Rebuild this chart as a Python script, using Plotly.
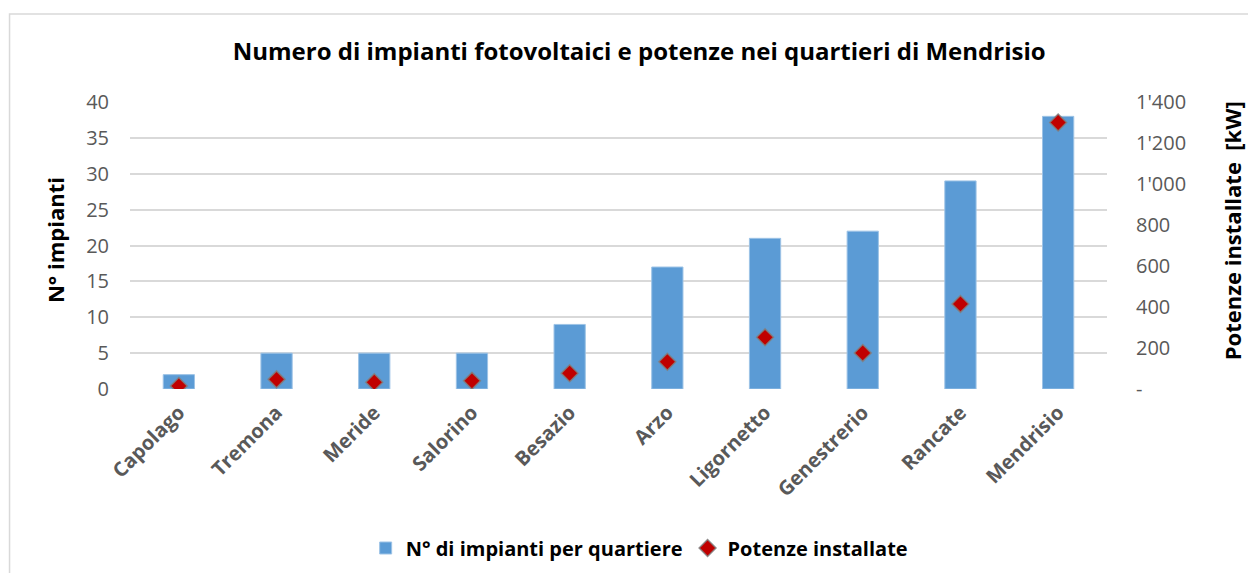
import plotly.graph_objects as go

categories = ["Capolago", "Tremona", "Meride", "Salorino", "Besazio", "Arzo",
              "Ligornetto", "Genestrerio", "Rancate", "Mendrisio"]
n_impianti = [2, 5, 5, 5, 9, 17, 21, 22, 29, 38]
potenze_kw = [15, 47, 33, 40, 77, 133, 252, 176, 415, 1300]

left_ticks = [0, 5, 10, 15, 20, 25, 30, 35, 40]
right_tickvals = [0, 200, 400, 600, 800, 1000, 1200, 1400]
right_ticktext = ["-", "200", "400", "600", "800", "1'000", "1'200", "1'400"]

FONT = "Open Sans"
GRAY = "#595959"

fig = go.Figure()
fig.add_trace(go.Bar(
    x=categories, y=n_impianti, name="N° di impianti per quartiere",
    marker=dict(color="#5B9BD5", line=dict(color="#9DC3E6", width=1)),
    yaxis="y",
))
fig.add_trace(go.Scatter(
    x=categories, y=potenze_kw, name="Potenze installate", mode="markers",
    marker=dict(symbol="diamond", size=13, color="#C00000",
                line=dict(color="rgba(128,128,128,0.85)", width=1.5)),
    yaxis="y2",
))

fig.update_layout(
    width=1240, height=565,
    margin=dict(l=122, r=141, t=94, b=184),
    paper_bgcolor="white", plot_bgcolor="white",
    font=dict(family=FONT, color=GRAY),
    bargap=0.68,
    showlegend=True,
    title=dict(text="<b>Numero di impianti fotovoltaici e potenze nei quartieri di Mendrisio</b>",
               x=0.509, xref="container", xanchor="center",
               y=1 - 44 / 565, yref="container", yanchor="middle",
               font=dict(family=FONT, size=24, color="#000000")),
    xaxis=dict(tickangle=-45, showgrid=False, showline=False, zeroline=False,
               range=[-0.5, len(categories) - 0.5],
               tickfont=dict(family=FONT, size=20, color=GRAY, weight="bold"),
               ticks="", ticklabelstandoff=7, automargin=False),
    yaxis=dict(range=[0, 40], tickvals=left_ticks, showgrid=True,
               gridcolor="#D9D9D9", gridwidth=1.5, zeroline=False,
               showline=False, ticks="", automargin=False,
               tickfont=dict(family=FONT, size=20, color=GRAY),
               ticklabelstandoff=20),
    yaxis2=dict(range=[0, 1400], tickvals=right_tickvals, ticktext=right_ticktext,
                overlaying="y", side="right", showgrid=False, zeroline=False,
                showline=False, ticks="", automargin=False,
                tickfont=dict(family=FONT, size=20, color=GRAY),
                ticklabelstandoff=28),
    legend=dict(orientation="h", x=0.509, xref="container", xanchor="center",
                y=1 - 540 / 565, yref="container", yanchor="middle",
                font=dict(family=FONT, size=20, color="#000000", weight="bold"),
                itemwidth=30, tracegroupgap=0),
    shapes=[dict(type="rect", xref="paper", yref="paper",
                 x0=-0.1233, x1=1.16, y0=-0.8, y1=1.3066,
                 line=dict(color="#D9D9D9", width=1.5), fillcolor="rgba(0,0,0,0)",
                 layer="below")],
    annotations=[
        dict(text="<b>N° impianti</b>", xref="paper", yref="paper",
             x=-0.0768, y=0.519, textangle=-90, showarrow=False,
             xanchor="center", yanchor="middle",
             font=dict(family=FONT, size=22, color="#000000")),
        dict(text="<b>Potenze installate  [kW]</b>", xref="paper", yref="paper",
             x=1.128, y=0.55, textangle=-90, showarrow=False,
             xanchor="center", yanchor="middle",
             font=dict(family=FONT, size=22, color="#000000")),
    ],
)

fig.write_html("out.html")
